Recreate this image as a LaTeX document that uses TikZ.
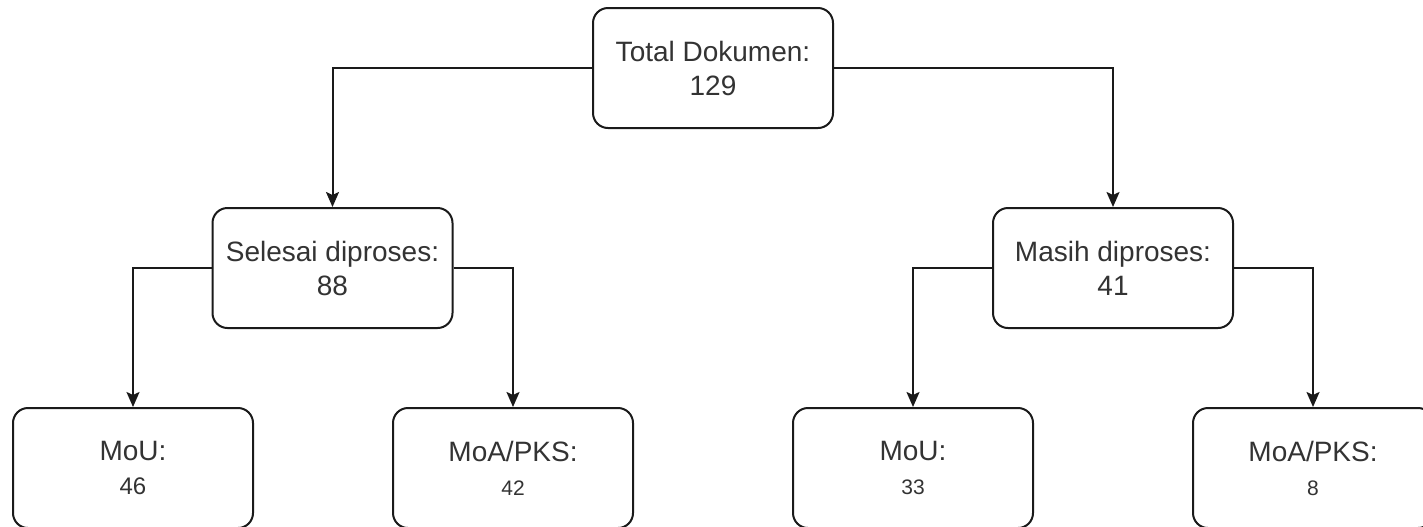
\documentclass[tikz,border=0pt]{standalone}
\usepackage{fontspec}
\setmainfont{Liberation Sans}
\usetikzlibrary{arrows.meta}
\definecolor{txt}{HTML}{333333}
\definecolor{ln}{HTML}{1A1A1A}
\tikzset{
  box/.style={draw=ln, line width=1pt, rounded corners=7.5pt, fill=white,
    minimum width=120pt, minimum height=60pt, inner sep=0pt,
    align=center, text=txt, font=\fontsize{14}{17}\selectfont},
  conn/.style={draw=ln, line width=1pt, -{Stealth[length=7.5pt,width=6.5pt,inset=1.5pt]}},
}
\begin{document}
\begin{tikzpicture}[x=0.5pt,y=-0.5pt]
\clip (0,0) rectangle (1423,526);
\fill[white] (0,0) rectangle (1423,526);
\node[box] (top) at (713,68) {Total Dokumen:\\129};
\node[box] (sel) at (332.5,268) {Selesai diproses:\\88};
\node[box] (mas) at (1113,268) {Masih diproses:\\41};
\node[box] (mou1) at (133,468) {MoU:\\{\fontsize{12}{14}\selectfont 46}};
\node[box] (moa1) at (513,468) {MoA/PKS:\\{\fontsize{10.5}{13}\selectfont 42}};
\node[box] (mou2) at (913,468) {MoU:\\{\fontsize{10.5}{13}\selectfont 33}};
\node[box] (moa2) at (1313,468) {MoA/PKS:\\{\fontsize{10.5}{13}\selectfont 8}};
\draw[conn] (top.west) -| (sel.north);
\draw[conn] (top.east) -| (mas.north);
\draw[conn] (sel.west) -| (mou1.north);
\draw[conn] (sel.east) -| (moa1.north);
\draw[conn] (mas.west) -| (mou2.north);
\draw[conn] (mas.east) -| (moa2.north);
\end{tikzpicture}
\end{document}
